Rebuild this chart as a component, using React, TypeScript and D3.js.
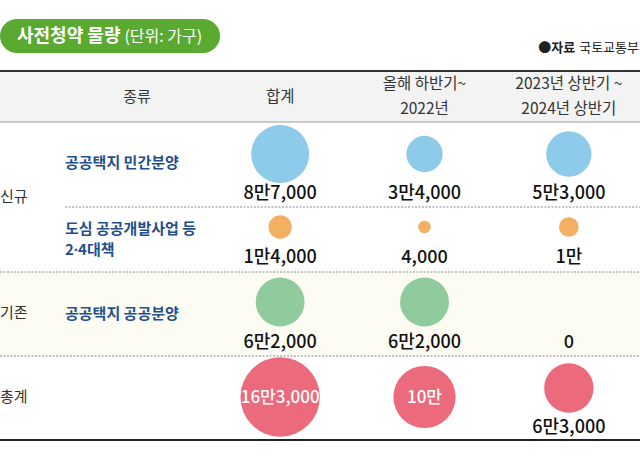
import React, { useEffect, useRef } from 'react';
import * as d3 from 'd3';

// columns (periods) and row labels
const periods = ['합계', '올해 하반기~|2022년', '2023년 상반기 ~|2024년 상반기'];
const groups = ['신규', '기존', '총계'];
const rowLabels = ['공공택지 민간분양', '도심 공공개발사업 등|2·4대책', '공공택지 공공분양', ''];

// values (가구)
const privateSale = [87000, 34000, 53000];
const urbanDev = [14000, 4000, 10000];
const publicSale = [62000, 62000, 0];
const totals = [163000, 100000, 63000];

const rowColors = ['#8ecae9', '#f4b062', '#8fcb9c', '#eb6a7c'];

function fmt(v: number) {
    const man = Math.floor(v / 10000);
    const rest = v % 10000;
    if (man > 0) return man + '만' + (rest ? d3.format(',')(rest) : '');
    return d3.format(',')(rest);
}

function App() {
    const svgRef = useRef<SVGSVGElement>(null);

    useEffect(() => {
        const width = 640;
        const height = 457;
        const font = "'Noto Sans CJK KR', 'Noto Sans', sans-serif";

        const svg = d3.select(svgRef.current)
            .attr('width', width)
            .attr('height', height)
            .style('font-family', font);
        svg.selectAll('*').remove();

        const rows = [privateSale, urbanDev, publicSale, totals];
        // row layout: boundaries, circle center, label baseline
        const rowTop = [122, 207, 272, 356];
        const rowBottom = [207, 272, 356, 440];
        const circleY = [154, 227, 302, 397];
        const labelY = [199, 263, 348, 433];

        const x = d3.scaleBand().domain(periods).range([208, 641]);
        const cx = (p: string) => (x(p) as number) + x.bandwidth() / 2;
        const r = d3.scaleSqrt().domain([0, d3.max(totals) as number]).range([0, 39.7]);

        // title pill
        svg.append('rect')
            .attr('x', 0).attr('y', 19).attr('width', 220).attr('height', 34)
            .attr('rx', 17).attr('fill', '#5aaa32');
        const title = svg.append('text').attr('x', 17).attr('y', 42).attr('fill', '#fff');
        title.append('tspan').attr('font-size', 18).attr('font-weight', 700).text('사전청약 물량');
        title.append('tspan').attr('font-size', 16).attr('dx', 4).text('(단위: 가구)');

        // source
        const src = svg.append('text').attr('x', 639).attr('y', 52)
            .attr('text-anchor', 'end').attr('font-size', 13).attr('fill', '#222');
        src.append('tspan').attr('font-weight', 700).text('●자료');
        src.append('tspan').attr('dx', 4).text('국토교통부');

        // header
        svg.append('rect').attr('x', 0).attr('y', 72).attr('width', width).attr('height', 50).attr('fill', '#f3f3f3');
        svg.append('rect').attr('x', 0).attr('y', 272).attr('width', width).attr('height', 84).attr('fill', '#fdfcf2');
        svg.append('line').attr('x1', 0).attr('x2', width).attr('y1', 71).attr('y2', 71)
            .attr('stroke', '#333').attr('stroke-width', 2);
        svg.append('line').attr('x1', 0).attr('x2', width).attr('y1', 122).attr('y2', 122)
            .attr('stroke', '#bbb').attr('stroke-width', 1.5);
        svg.append('line').attr('x1', 0).attr('x2', width).attr('y1', 440).attr('y2', 440)
            .attr('stroke', '#222').attr('stroke-width', 2);

        svg.append('text').attr('x', 137).attr('y', 102).attr('text-anchor', 'middle')
            .attr('font-size', 15).attr('fill', '#333').text('종류');

        periods.forEach(p => {
            const lines = p.split('|');
            const t = svg.append('text').attr('text-anchor', 'middle').attr('font-size', 15.5).attr('fill', '#333');
            lines.forEach((l, i) => {
                t.append('tspan').attr('x', cx(p))
                    .attr('y', lines.length === 1 ? 102 : 89 + i * 25)
                    .text(l);
            });
        });

        // dotted separators
        const dots = [[65, 207], [0, 272], [0, 356]];
        dots.forEach(([x0, y]) => {
            svg.append('line').attr('x1', x0).attr('x2', width).attr('y1', y).attr('y2', y)
                .attr('stroke', '#888').attr('stroke-width', 1).attr('stroke-dasharray', '2,1.5');
        });

        // group labels
        const groupY = [202, 318, 402];
        groups.forEach((g, i) => {
            svg.append('text').attr('x', 0).attr('y', groupY[i])
                .attr('font-size', 15).attr('fill', '#333').text(g);
        });

        // row labels
        rowLabels.forEach((lab, i) => {
            if (!lab) return;
            const lines = lab.split('|');
            const t = svg.append('text').attr('font-size', 15).attr('font-weight', 700).attr('fill', '#1f4f8e');
            const mid = (rowTop[i] + rowBottom[i]) / 2 + 5 - (i === 0 ? 2 : 0);
            lines.forEach((l, j) => {
                const ts = t.append('tspan').attr('x', 65)
                    .attr('y', mid + (j - (lines.length - 1) / 2) * 21);
                // keep the middle dot narrow
                l.split('·').forEach((part, k) => {
                    if (k > 0) ts.append('tspan').style('font-family', "'Noto Sans', sans-serif").text('·');
                    ts.append('tspan').text(part);
                });
            });
        });

        // bubbles and value labels
        rows.forEach((vals, i) => {
            const g = svg.append('g');
            vals.forEach((v, j) => {
                const rad = r(v);
                const inside = rad > 30;
                const cy = inside || i < 3 ? circleY[i] : labelY[i] - 45;
                if (v > 0) {
                    g.append('circle')
                        .attr('cx', cx(periods[j]))
                        .attr('cy', cy)
                        .attr('r', rad)
                        .attr('fill', rowColors[i]);
                }
                g.append('text')
                    .attr('x', cx(periods[j]))
                    .attr('y', inside ? cy + 6 : labelY[i])
                    .attr('text-anchor', 'middle')
                    .attr('font-size', inside ? 17 : 18)
                    .attr('font-weight', 500)
                    .attr('fill', inside ? '#fff' : '#111')
                    .text(fmt(v));
            });
        });
    }, []);

    return <svg ref={svgRef} style={{ display: 'block', position: 'absolute', left: 0, top: 0 }}></svg>;
}

export default App;
